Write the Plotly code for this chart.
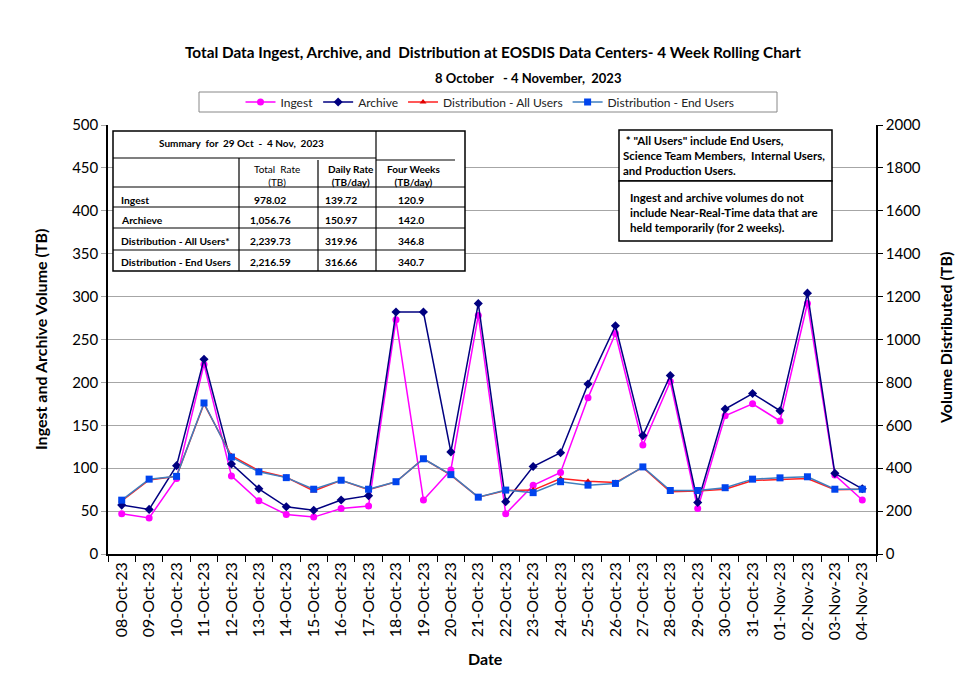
import plotly.graph_objects as go

dates = ["08-Oct-23", "09-Oct-23", "10-Oct-23", "11-Oct-23", "12-Oct-23", "13-Oct-23", "14-Oct-23",
         "15-Oct-23", "16-Oct-23", "17-Oct-23", "18-Oct-23", "19-Oct-23", "20-Oct-23", "21-Oct-23",
         "22-Oct-23", "23-Oct-23", "24-Oct-23", "25-Oct-23", "26-Oct-23", "27-Oct-23", "28-Oct-23",
         "29-Oct-23", "30-Oct-23", "31-Oct-23", "01-Nov-23", "02-Nov-23", "03-Nov-23", "04-Nov-23"]

ingest = [47, 42, 88, 221, 91, 62, 46, 43, 53, 56, 273, 63, 98, 278,
          47, 80, 95, 182, 257, 127, 201, 53, 161, 175, 155, 292, 92, 63]
archive = [57, 52, 103, 227, 105, 76, 55, 51, 63, 68, 282, 282, 119, 292,
           61, 102, 118, 198, 266, 138, 208, 60, 169, 187, 167, 304, 94, 76]
dist_all = [248, 345, 362, 700, 458, 388, 358, 294, 344, 300, 337, 444, 368, 265,
            296, 298, 352, 339, 333, 404, 290, 294, 302, 343, 347, 352, 300, 302]
dist_end = [251, 349, 362, 704, 452, 383, 356, 302, 344, 302, 337, 444, 370, 265,
            298, 286, 337, 321, 329, 406, 296, 296, 309, 349, 355, 360, 302, 302]

series_names = ["Ingest", "Archive", "Distribution - All Users", "Distribution - End Users"]

title_text = "Total Data Ingest, Archive, and  Distribution at EOSDIS Data Centers- 4 Week Rolling Chart"
subtitle_text = "8 October   - 4 November,  2023"

table_title = "Summary  for  29 Oct  -  4 Nov,  2023"
table_headers = ["Total  Rate<br>(TB)", "Daily Rate<br>(TB/day)", "Four Weeks<br>(TB/day)"]
table_rows = ["Ingest", "Archieve", "Distribution - All Users*", "Distribution - End Users"]
table_total = ["978.02", "1,056.76", "2,239.73", "2,216.59"]
table_daily = ["139.72", "150.97", "319.96", "316.66"]
table_four = ["120.9", "142.0", "346.8", "340.7"]

note1 = " * \"All Users\" include End Users,<br>Science Team Members,  Internal Users,<br>and Production Users."
note2 = "Ingest and archive volumes do not<br>include Near-Real-Time data that are<br>held temporarily (for 2 weeks)."

FONT = "Lato"
W, H = 972, 688
L, R, T, B = 108, 876, 125, 554


def px(x):
    return (x - L) / (R - L)


def py(y):
    return (B - y) / (B - T)


def keep_spaces(s):
    return s.replace("  ", " \u00a0")


fig = go.Figure()
fig.add_trace(go.Scatter(x=dates, y=ingest, name=series_names[0], mode="lines+markers",
                         line=dict(color="#FF00FF", width=1.5),
                         marker=dict(symbol="circle", size=7, color="#FF00FF")))
fig.add_trace(go.Scatter(x=dates, y=archive, name=series_names[1], mode="lines+markers",
                         line=dict(color="#000080", width=1.5),
                         marker=dict(symbol="diamond", size=7, color="#000080")))
fig.add_trace(go.Scatter(x=dates, y=dist_all, name=series_names[2], mode="lines+markers", yaxis="y2",
                         line=dict(color="#FF2020", width=1.5),
                         marker=dict(symbol="triangle-up", size=6, color="#E00000")))
fig.add_trace(go.Scatter(x=dates, y=dist_end, name=series_names[3], mode="lines+markers", yaxis="y2",
                         line=dict(color="#3F7FBF", width=1.5),
                         marker=dict(symbol="square", size=7, color="#0044EE")))

shapes = []
# legend border
shapes.append(dict(type="rect", xref="paper", yref="paper", x0=px(199), x1=px(777), y0=py(92), y1=py(112),
                   line=dict(color="#888888", width=1), fillcolor="rgba(0,0,0,0)", layer="above"))
# table
shapes.append(dict(type="rect", xref="paper", yref="paper", x0=px(113), x1=px(465), y0=py(131), y1=py(271),
                   line=dict(color="black", width=1.5), fillcolor="white", layer="above"))


def hline(x0, x1, y, w=1.2):
    shapes.append(dict(type="line", xref="paper", yref="paper", x0=px(x0), x1=px(x1), y0=py(y), y1=py(y),
                       line=dict(color="black", width=w), layer="above"))


def vline(x, y0, y1, w=1.2):
    shapes.append(dict(type="line", xref="paper", yref="paper", x0=px(x), x1=px(x), y0=py(y0), y1=py(y1),
                       line=dict(color="black", width=w), layer="above"))


hline(113, 376, 158)
hline(376, 455, 160)
hline(113, 465, 187)
hline(113, 465, 207)
hline(113, 465, 228)
hline(113, 465, 250)
vline(239, 158, 271)
vline(318, 160, 271)
vline(376, 131, 271)

# note boxes
shapes.append(dict(type="rect", xref="paper", yref="paper", x0=px(619), x1=px(832), y0=py(130), y1=py(181),
                   line=dict(color="black", width=1.5), fillcolor="white", layer="above"))
shapes.append(dict(type="rect", xref="paper", yref="paper", x0=px(619), x1=px(832), y0=py(181), y1=py(241),
                   line=dict(color="black", width=1.5), fillcolor="white", layer="above"))

ann = []


def text(x, y, s, size=10, bold=True, xanchor="center", align="center", color="black"):
    s = keep_spaces(s)
    ann.append(dict(x=px(x), y=py(y), xref="paper", yref="paper", text=("<b>%s</b>" % s) if bold else s,
                    showarrow=False, xanchor=xanchor, yanchor="middle", align=align,
                    font=dict(family=FONT, size=size, color=color)))


text(493, 52, title_text, size=15.3)
text(528, 78, subtitle_text, size=13)
text(241, 143, table_title, size=10)
text(277, 175, table_headers[0], size=10, bold=False)
text(351, 175, table_headers[1], size=10)
text(413, 175, table_headers[2], size=10)
row_y = [200, 220, 241, 262]
col_x = [270, 341, 411]
for i, r in enumerate(table_rows):
    text(119, row_y[i], r, size=10.3, xanchor="left", align="left")
    text(col_x[0], row_y[i], table_total[i], size=10.3)
    text(col_x[1], row_y[i], table_daily[i], size=10.3)
    text(col_x[2], row_y[i], table_four[i], size=10.3)

text(621, 155, note1, size=11.5, xanchor="left", align="left")
text(628, 212, note2, size=11.5, xanchor="left", align="left")

text(40, 340, "Ingest and Archive Volume (TB)", size=16)
ann[-1]["textangle"] = -90
text(945, 338, "Volume Distributed (TB)", size=16)
ann[-1]["textangle"] = -90
text(485, 658, "Date", size=16)

fig.update_layout(
    width=W, height=H,
    margin=dict(l=L, r=W - R, t=T, b=H - B, pad=0),
    paper_bgcolor="white", plot_bgcolor="white",
    font=dict(family=FONT, color="black"),
    showlegend=True,
    legend=dict(orientation="h", x=px(490), xanchor="center", y=py(102), yanchor="middle",
                bgcolor="rgba(0,0,0,0)", font=dict(family=FONT, size=12, color="#222222"),
                traceorder="normal", itemwidth=30),
    xaxis=dict(type="category", range=[-0.5, len(dates) - 0.5], tickangle=-90,
               tickfont=dict(family=FONT, size=16, color="black"),
               showline=True, linecolor="black", linewidth=1.5, ticks="outside", tickson="boundaries",
               ticklen=6, tickcolor="black", showgrid=False, mirror=False),
    yaxis=dict(range=[0, 500], dtick=50, tickfont=dict(family=FONT, size=15, color="black"),
               showline=True, linecolor="black", linewidth=1.5, ticks="outside", ticklen=5,
               tickcolor="#A6A6A6", showgrid=True, gridcolor="#A6A6A6", gridwidth=1, zeroline=False),
    yaxis2=dict(range=[0, 2000], dtick=200, overlaying="y", side="right",
                tickfont=dict(family=FONT, size=15, color="black"),
                showline=True, linecolor="black", linewidth=1.5, ticks="outside", ticklen=5,
                tickcolor="black", showgrid=False, zeroline=False),
    shapes=shapes,
    annotations=ann,
)

fig.write_html("out.html", config={"displayModeBar": False},
               post_script="document.body.style.margin='0';")
